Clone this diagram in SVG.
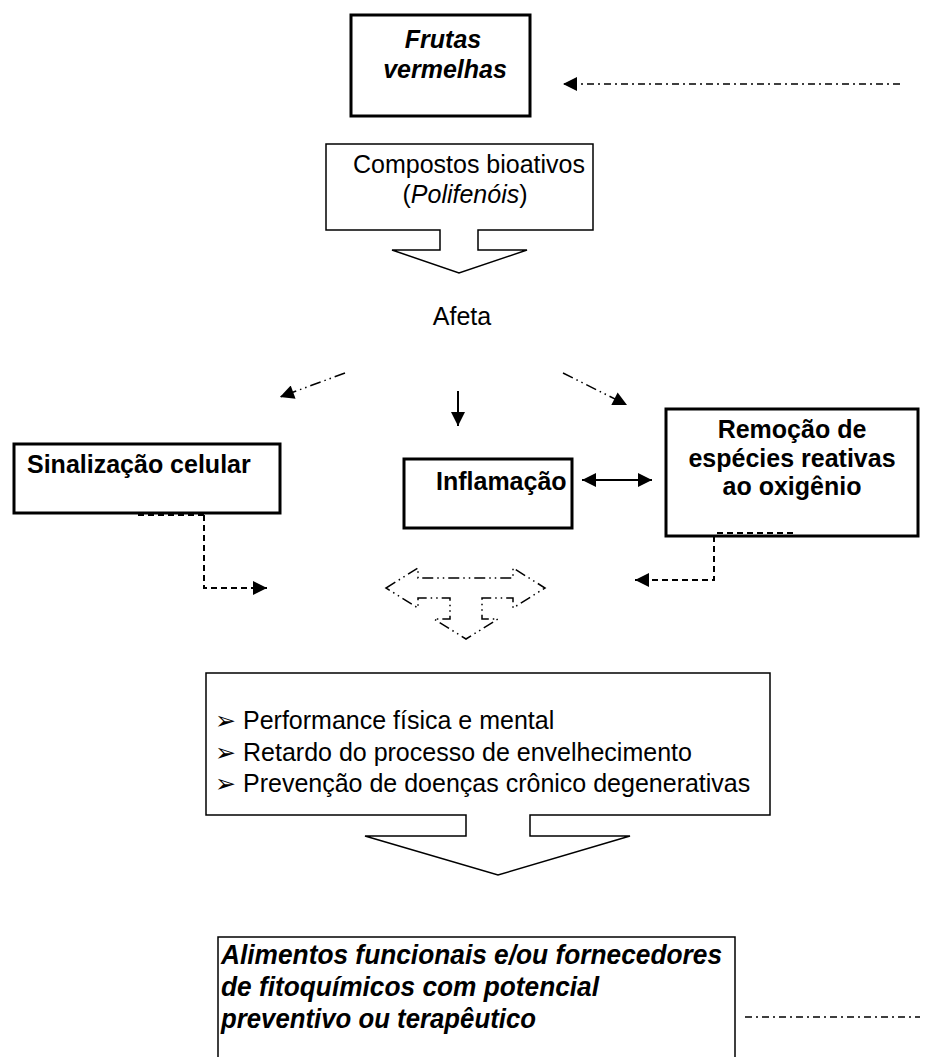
<svg xmlns="http://www.w3.org/2000/svg" width="927" height="1057" viewBox="0 0 927 1057">
<style>
  text { font-family: "Liberation Sans", Arial, sans-serif; fill: #000; }
  .big { font-size: 25px; }
  .b { font-weight: bold; }
  .i { font-style: italic; }
  .bul { font-family: "DejaVu Sans", sans-serif; font-size: 25px; }
  .alim { font-size: 28px; font-weight: bold; font-style: italic; }
  .thick { fill: #fff; stroke: #000; stroke-width: 3; }
  .thin { fill: #fff; stroke: #000; stroke-width: 1.5; }
  .dd { fill: none; stroke: #000; stroke-width: 1.4; stroke-dasharray: 7 4 2 4; }
  .ddd { fill: none; stroke: #000; stroke-width: 1.5; stroke-dasharray: 11 4 1.5 4 1.5 4; }
  .dash { fill: none; stroke: #000; stroke-width: 2; stroke-dasharray: 6 4; }
  .solid { fill: none; stroke: #000; stroke-width: 2; }
</style>
<defs>
  <marker id="ah" viewBox="0 0 10 10" refX="10" refY="5" markerWidth="16" markerHeight="14" markerUnits="userSpaceOnUse" orient="auto-start-reverse">
    <path d="M0,0 L10,5 L0,10 Z" fill="#000"/>
  </marker>
</defs>

<g id="frutas">
  <rect class="thick" x="351" y="15" width="179" height="101"/>
  <text class="big b i" x="443" y="48" text-anchor="middle">Frutas</text>
  <text class="big b i" x="445" y="78" text-anchor="middle">vermelhas</text>
</g>

<g id="compostos">
  <path class="thin" d="M326,144 H593 V230 H478 V250 H527 L459,273 L392,250 H440 V230 H326 Z"/>
  <text class="big" x="469" y="173" text-anchor="middle">Compostos bioativos</text>
  <text class="big" x="465" y="203" text-anchor="middle">(<tspan class="i">Polifenóis</tspan>)</text>
</g>

<g id="afeta">
  <text class="big" x="462" y="325" text-anchor="middle">Afeta</text>
</g>

<g id="sinalizacao">
  <rect class="thick" x="14" y="444" width="266" height="69"/>
  <text class="big b" x="27" y="473">Sinalização celular</text>
</g>

<g id="inflamacao">
  <rect class="thick" x="404" y="459" width="168" height="69"/>
  <text class="big b" x="436" y="490">Inflamação</text>
</g>

<g id="remocao">
  <rect class="thick" x="666" y="409" width="252" height="127"/>
  <text class="big b" x="792" y="438" text-anchor="middle">Remoção de</text>
  <text class="big b" x="792" y="467" text-anchor="middle">espécies reativas</text>
  <text class="big b" x="792" y="495" text-anchor="middle">ao oxigênio</text>
</g>

<g id="convergencia">
  <path class="ddd" d="M386,588 L418,568 L418,578 L513,578 L513,568 L545,588 L513,608 L513,598 L482,598 L482,619 L498,619 L466,639 L434,619 L450,619 L450,598 L418,598 L418,608 Z"/>
</g>

<g id="beneficios">
  <path class="thin" d="M206,673 H770 V815 H530 V836 H630 L498,875 L365,836 H466 V815 H206 Z"/>
  <text class="bul" x="215" y="729">➢</text>
  <text class="big" x="243" y="729">Performance física e mental</text>
  <text class="bul" x="215" y="761">➢</text>
  <text class="big" x="243" y="761">Retardo do processo de envelhecimento</text>
  <text class="bul" x="215" y="792">➢</text>
  <text class="big" x="243" y="792">Prevenção de doenças crônico degenerativas</text>
</g>

<g id="alimentos">
  <path class="thin" d="M218,1057 V937 H735 V1057"/>
  <text class="alim" x="221" y="964" textLength="501" lengthAdjust="spacingAndGlyphs">Alimentos funcionais e/ou fornecedores</text>
  <text class="alim" x="221" y="996" textLength="378" lengthAdjust="spacingAndGlyphs">de fitoquímicos com potencial</text>
  <text class="alim" x="221" y="1028" textLength="315" lengthAdjust="spacingAndGlyphs">preventivo ou terapêutico</text>
</g>

<g id="connectors">
  <line class="dd" x1="900" y1="84" x2="563" y2="84" marker-end="url(#ah)"/>
  <line class="ddd" x1="345" y1="373" x2="280" y2="397" marker-end="url(#ah)"/>
  <line class="solid" x1="458" y1="391" x2="458" y2="426" marker-end="url(#ah)"/>
  <line class="ddd" x1="563" y1="373" x2="627" y2="405" marker-end="url(#ah)"/>
  <line class="solid" x1="582" y1="480" x2="652" y2="480" marker-start="url(#ah)" marker-end="url(#ah)"/>
  <line class="dash" x1="138" y1="515" x2="204" y2="515"/>
  <polyline class="dash" points="204,515 204,588 267,588" marker-end="url(#ah)"/>
  <line class="dash" x1="717" y1="533" x2="795" y2="533"/>
  <polyline class="dash" points="714,536 714,580 635,580" marker-end="url(#ah)"/>
  <line class="dd" x1="745" y1="1017" x2="920" y2="1017"/>
</g>
</svg>
